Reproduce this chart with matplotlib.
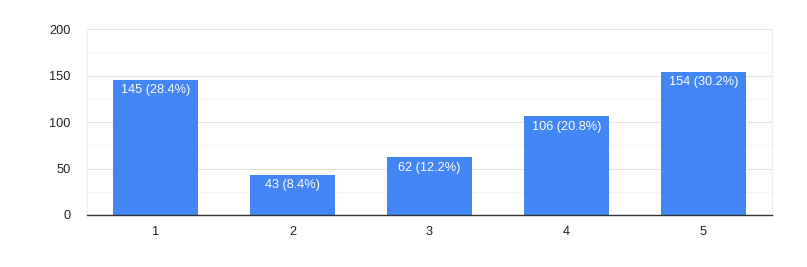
import matplotlib.pyplot as plt
import numpy as np

categorias = ['1', '2', '3', '4', '5']
valores = [145, 43, 62, 106, 154]
porcentajes = [28.4, 8.4, 12.2, 20.8, 30.2]

plt.rcParams['font.family'] = ['Liberation Sans', 'DejaVu Sans']

fig = plt.figure(figsize=(8.07, 2.67), dpi=100)
ax = fig.add_axes([0.1078, 0.1948, 0.8488, 0.6962])

x = np.arange(len(categorias))
barras = ax.bar(x, valores, width=0.615, color='#4285f4', zorder=3)

# etiquetas dentro de las barras
for b, v, p in zip(barras, valores, porcentajes):
    ax.annotate(f'{v} ({p}%)', (b.get_x() + b.get_width() / 2, v),
                xytext=(0, -3), textcoords='offset points',
                ha='center', va='top', color='white', fontsize=9.2, zorder=4)

ax.set_xlim(-0.5, 4.5)
ax.set_ylim(0, 200)
ax.set_xticks(x)
ax.set_xticklabels(categorias)
ax.set_yticks([0, 50, 100, 150, 200])
ax.set_yticks([25, 75, 125, 175], minor=True)

# rejilla
ax.grid(axis='y', which='major', color='#e4e4e4', linewidth=0.8, zorder=0)
ax.grid(axis='y', which='minor', color='#f4f4f4', linewidth=0.8, zorder=0)

ax.tick_params(axis='both', which='both', length=0, labelsize=9.2, colors='#222222')
ax.tick_params(axis='y', pad=12)
ax.tick_params(axis='x', pad=8)

ax.spines['top'].set_visible(False)
ax.spines['left'].set_color('#f0f0f0')
ax.spines['right'].set_color('#f0f0f0')
ax.spines['bottom'].set_color('#333333')
ax.spines['bottom'].set_linewidth(1.0)
ax.spines['bottom'].set_zorder(5)

fig.savefig('out.png', dpi=100)
